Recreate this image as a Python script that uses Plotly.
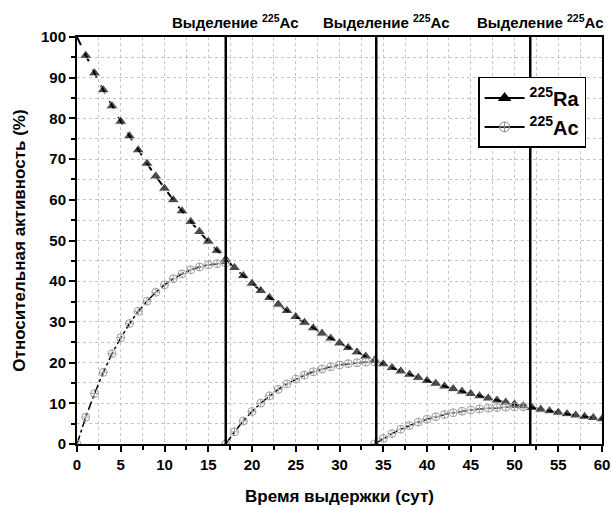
import plotly.graph_objects as go

# --- data ---
ra_days = list(range(0, 61))
ra_activity = [100.0, 95.45, 91.12, 86.97, 83.02, 79.25, 75.65, 72.21, 68.92, 65.79,
               62.80, 59.95, 57.22, 54.62, 52.14, 49.77, 47.51, 45.35, 43.29, 41.32,
               39.44, 37.65, 35.94, 34.30, 32.74, 31.25, 29.83, 28.48, 27.18, 25.95,
               24.77, 23.64, 22.57, 21.54, 20.56, 19.63, 18.74, 17.88, 17.07, 16.30,
               15.56, 14.85, 14.17, 13.53, 12.91, 12.33, 11.77, 11.23, 10.72, 10.23,
               9.77, 9.33, 8.90, 8.50, 8.11, 7.74, 7.39, 7.06, 6.73, 6.43, 6.14]

ac1_days = list(range(0, 18))
ac1_activity = [0.0, 6.6, 12.4, 17.6, 22.2, 26.1, 29.6, 32.6, 35.1, 37.3,
                39.1, 40.6, 41.8, 42.8, 43.5, 44.0, 44.3, 44.5]
ac2_days = list(range(17, 35))
ac2_activity = [0.0, 2.99, 5.64, 7.99, 10.05, 11.85, 13.42, 14.78, 15.94, 16.92,
                17.75, 18.43, 18.98, 19.41, 19.73, 19.96, 20.10, 20.16]
ac3_days = list(range(34, 52))
ac3_activity = [0.0, 1.36, 2.56, 3.62, 4.55, 5.37, 6.08, 6.70, 7.23, 7.67,
                8.05, 8.35, 8.60, 8.80, 8.95, 9.05, 9.11, 9.14]

separation_days = [17.0, 34.2, 51.8]
separation_label = "<b>Выделение <sup>225</sup>Ac</b>"

x_title = "<b>Время выдержки (сут)</b>"
y_title = "<b>Относительная активность (%)</b>"
ra_name = "<b><sup>225</sup>Ra</b>"
ac_name = "<b><sup>225</sup>Ac</b>"

FONT = "Liberation Sans, Arial, sans-serif"
AC_GREY = "#a0a0a0"

fig = go.Figure()

# Ra curve (first point has no marker)
ra_sizes = [0] + [11] * (len(ra_days) - 1)
fig.add_trace(go.Scatter(
    x=ra_days, y=ra_activity, mode="lines+markers", showlegend=False,
    line=dict(color="black", width=2, dash="dash"),
    marker=dict(symbol="triangle-up", size=ra_sizes, color="black"),
))

for xs, ys in [(ac1_days, ac1_activity), (ac2_days, ac2_activity), (ac3_days, ac3_activity)]:
    fig.add_trace(go.Scatter(
        x=xs, y=ys, mode="lines+markers", showlegend=False,
        line=dict(color="black", width=1.5, dash="dashdot"),
        marker=dict(symbol="circle-cross-open", size=8, color=AC_GREY,
                    line=dict(width=1, color=AC_GREY)),
    ))

# legend-only entries
fig.add_trace(go.Scatter(
    x=[None], y=[None], mode="lines+markers", name=ra_name,
    line=dict(color="black", width=2),
    marker=dict(symbol="triangle-up", size=12, color="black"),
))
fig.add_trace(go.Scatter(
    x=[None], y=[None], mode="lines+markers", name=ac_name,
    line=dict(color="black", width=2),
    marker=dict(symbol="circle-cross-open", size=10, color="#888888",
                line=dict(width=1, color="#888888")),
))

for d in separation_days:
    fig.add_shape(type="line", xref="x", yref="paper", x0=d, x1=d, y0=0, y1=1,
                  line=dict(color="black", width=2.5), layer="above")
    fig.add_annotation(x=d, y=1, xref="x", yref="paper", yanchor="bottom",
                       xanchor="center", xshift=10, yshift=4, showarrow=False,
                       text=separation_label, font=dict(size=15, color="black", family=FONT))

axis_common = dict(
    showline=True, linecolor="black", linewidth=2, mirror=True,
    ticks="outside", ticklen=6, tickwidth=2, tickcolor="black",
    tickfont=dict(size=15, color="black", family=FONT, weight="bold"),
    showgrid=True, gridcolor="#c4c4c4", griddash="dot", gridwidth=1,
    zeroline=False,
)

fig.update_xaxes(range=[0, 60], dtick=5, **axis_common,
                 minor=dict(dtick=2.5, ticks="outside", ticklen=4, tickwidth=1.5,
                            tickcolor="black", showgrid=True, gridcolor="#c4c4c4",
                            griddash="dot"),
                 title=dict(text=x_title, font=dict(size=17, color="black", family=FONT),
                            standoff=18))
fig.update_yaxes(range=[0, 100], dtick=10, **axis_common,
                 minor=dict(dtick=5, ticks="outside", ticklen=4, tickwidth=1.5,
                            tickcolor="black", showgrid=True, gridcolor="#c4c4c4",
                            griddash="dot"),
                 title=dict(text=y_title, font=dict(size=17, color="black", family=FONT),
                            standoff=11))

fig.update_layout(
    width=611, height=508,
    margin=dict(l=77, r=9, t=37, b=64, autoexpand=False),
    paper_bgcolor="white", plot_bgcolor="white",
    font=dict(family=FONT, color="black"),
    legend=dict(x=0.764, y=0.902, xanchor="left", yanchor="top",
                bgcolor="white", bordercolor="black", borderwidth=1.5,
                itemwidth=40,
                font=dict(size=20, color="black", family=FONT)),
)

# remove the default page margin so the 611x508 figure fills the window exactly
fig.write_html(
    "out.html",
    config={"displayModeBar": False},
    post_script="document.body.style.margin='0';document.body.style.overflow='hidden';",
)
